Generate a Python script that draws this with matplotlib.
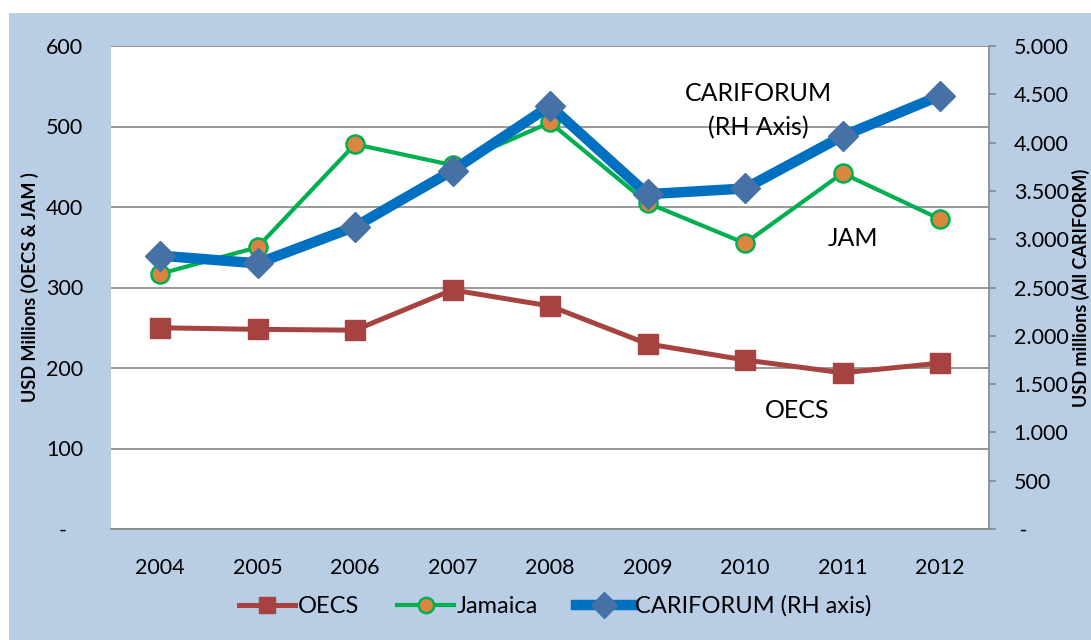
import matplotlib
matplotlib.use('Agg')
import matplotlib.pyplot as plt
from matplotlib.patches import Rectangle
from matplotlib.ticker import FuncFormatter, MultipleLocator

plt.rcParams['font.family'] = ['Lato', 'DejaVu Sans']

years = ['2004', '2005', '2006', '2007', '2008', '2009', '2010', '2011', '2012']
oecs = [250, 248, 247, 297, 277, 230, 210, 194, 206]
jamaica = [317, 350, 478, 452, 505, 405, 355, 442, 385]
cariforum = [2830, 2750, 3130, 3710, 4380, 3466, 3525, 4067, 4485]

BG = '#B9CDE5'
GRID = '#888888'

fig = plt.figure(figsize=(10.91, 6.4), dpi=100)
fig.patches.append(Rectangle((9 / 1091, 0), 1 - 9 / 1091, 1 - 13 / 640,
                             transform=fig.transFigure, facecolor=BG,
                             edgecolor='none', zorder=-10))

ax = fig.add_axes([111.25 / 1091, 1 - 529 / 640, 877.5 / 1091, 483 / 640])
ax.set_facecolor('white')
x = list(range(len(years)))

l1, = ax.plot(x, oecs, color='#A6423F', lw=3.6, marker='s', ms=14,
              label='OECS', zorder=3)
l2, = ax.plot(x, jamaica, color='#00B050', lw=3, marker='o', ms=13,
              markerfacecolor='#DA8540', markeredgecolor='#00B050',
              markeredgewidth=1.8, label='Jamaica', zorder=3)

ax.set_xlim(-0.5, len(years) - 0.5)
ax.set_ylim(0, 600)
ax.yaxis.set_major_locator(MultipleLocator(100))
ax.yaxis.set_major_formatter(FuncFormatter(lambda v, p: '-   ' if v == 0 else f'{v:.0f}'))
ax.set_xticks(x)
ax.set_xticklabels(years)
ax.grid(axis='y', color=GRID, lw=1.2)
ax.set_axisbelow(True)
for s in ['left', 'right', 'top']:
    ax.spines[s].set_visible(False)
ax.spines['bottom'].set_color(GRID)
ax.spines['bottom'].set_linewidth(1.2)
ax.tick_params(axis='both', length=0, labelsize=15.5, colors='black')
ax.tick_params(axis='y', pad=20)
ax.tick_params(axis='x', pad=21)
ax.set_ylabel('USD Millions (OECS & JAM )', fontsize=13, fontweight='bold')
ax.yaxis.set_label_coords(-72 / 877.5, 0.5)

ax2 = ax.twinx()
l3, = ax2.plot(x, cariforum, color='#0070C0', lw=7.5, marker='D', ms=15,
               markerfacecolor='#4571A7', markeredgecolor='#4571A7',
               label='CARIFORUM (RH axis)', zorder=4)
ax2.set_ylim(0, 5000)
ax2.yaxis.set_major_locator(MultipleLocator(500))
ax2.yaxis.set_major_formatter(FuncFormatter(
    lambda v, p: ' -' if v == 0 else f'{v:,.0f}'.replace(',', '.')))
for s in ['left', 'top', 'bottom']:
    ax2.spines[s].set_visible(False)
ax2.spines['right'].set_color(GRID)
ax2.spines['right'].set_linewidth(1.2)
ax2.tick_params(axis='y', length=5, width=1.2, color=GRID, direction='out',
                labelsize=15.5, pad=13)
ax2.set_ylabel('USD millions (All CARIFORM)', fontsize=13, fontweight='bold')
ax2.yaxis.set_label_coords(1 + 83 / 877.5, 0.5)

ax.text(6.14, 520, 'CARIFORUM\n(RH Axis)', ha='center', va='center',
        fontsize=18, linespacing=1.55, zorder=5)
ax.text(7.11, 361, 'JAM', ha='center', va='center', fontsize=18, zorder=5)
ax.text(6.53, 147, 'OECS', ha='center', va='center', fontsize=18, zorder=5)

fig.legend(handles=[l1, l2, l3], loc='center', bbox_to_anchor=(0.509, 0.053),
           ncol=3, frameon=False, fontsize=17, handlelength=2.4,
           handletextpad=0.12, columnspacing=1.6, markerscale=0.85)

fig.savefig('out.png', dpi=100)
